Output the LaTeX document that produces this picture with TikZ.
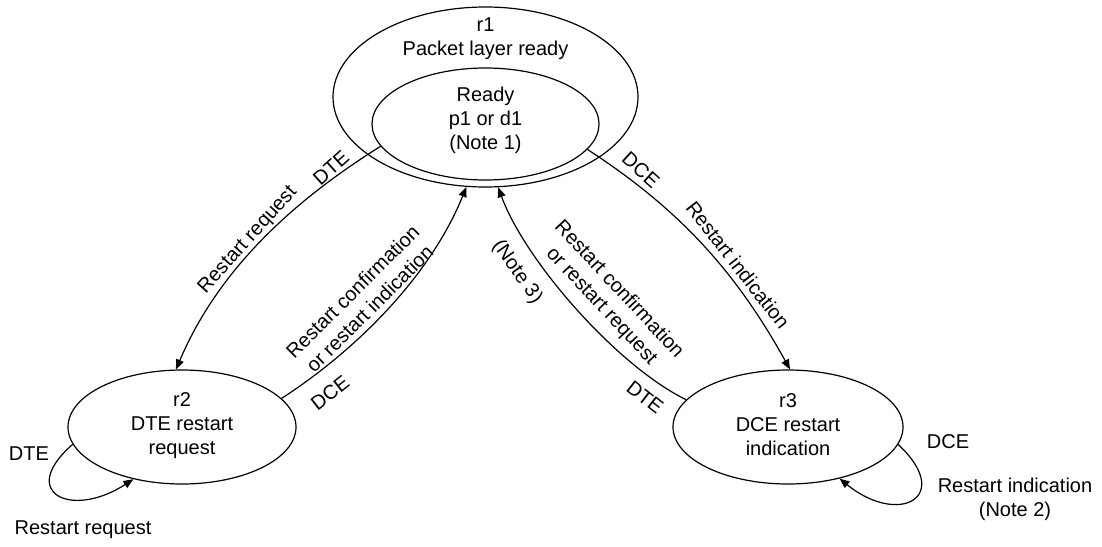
\documentclass[tikz,border=0pt]{standalone}
\usepackage{fontspec}
\setmainfont{Liberation Sans}
\usetikzlibrary{arrows.meta,shapes.geometric}
\begin{document}
\begin{tikzpicture}[x=0.5pt,y=0.5pt,
  st/.style={ellipse, draw, line width=0.6pt, inner sep=0pt},
  lbl/.style={inner sep=0pt, align=center, font=\fontsize{10pt}{12pt}\selectfont},
  tr/.style={line width=0.6pt, -{Triangle[length=5pt,width=4pt]}},
  ln/.style={line width=0.6pt}]
\useasboundingbox (0,0) rectangle (1102,-546);
% states
\node[st, minimum width=152.5pt, minimum height=90pt] (r1) at (485.5,-97) {};
\node[st, minimum width=113.5pt, minimum height=56pt] (r1in) at (485.5,-124) {};
\node[lbl] (r1text) at (485.5,-39) {r1\\Packet layer ready};
\node[lbl] (r1intext) at (485.5,-120) {Ready\\p1 or d1\\(Note 1)};
\node[st, minimum width=114pt, minimum height=57pt] (r2) at (182,-427) {};
\node[lbl] (r2text) at (182,-426) {r2\\DTE restart\\request};
\node[st, minimum width=115pt, minimum height=57pt] (r3) at (788,-427) {};
\node[lbl] (r3text) at (788,-425) {r3\\DCE restart\\indication};
% transitions
\draw[tr] (r1in.192) to[out=212, in=67, looseness=0.9] (r2.96);
\draw[tr] (r2.16) to[out=33, in=248, looseness=0.85] (r1.258);
\draw[tr] (r1in.346) to[out=-33, in=119, looseness=0.95] (r3.88);
\draw[tr] (r3.165) to[out=154, in=290, looseness=0.7] (r1.278);
\draw[tr] (r2.189) to[out=221, in=213, looseness=2.7] (r2.227);
\draw[tr] (r3.351) to[out=-43, in=-39, looseness=2.9] (r3.315);
% labels
\node[lbl, rotate=42] (l1a) at (331,-168) {DTE};
\node[lbl, rotate=48] (l1b) at (248,-240) {Restart request};
\node[lbl, rotate=45] (l2a) at (361,-300) {Restart confirmation\\or restart indication};
\node[lbl, rotate=38] (l2b) at (330,-393) {DCE};
\node[lbl, rotate=-42] (l3a) at (641,-170) {DCE};
\node[lbl, rotate=-52] (l3b) at (738,-265) {Restart indication};
\node[lbl, rotate=-47] (l4a) at (610,-298) {Restart confirmation\\or restart request};
\node[lbl, rotate=-55] (l4n) at (517,-272) {(Note 3)};
\node[lbl, rotate=-38] (l4b) at (645,-397) {DTE};
\node[lbl] (l5a) at (29,-454) {DTE};
\node[lbl] (l5b) at (83,-530) {Restart request};
\node[lbl] (l6a) at (948,-442) {DCE};
\node[lbl] (l6b) at (1015,-499) {Restart indication\\(Note 2)};
\end{tikzpicture}
\end{document}
